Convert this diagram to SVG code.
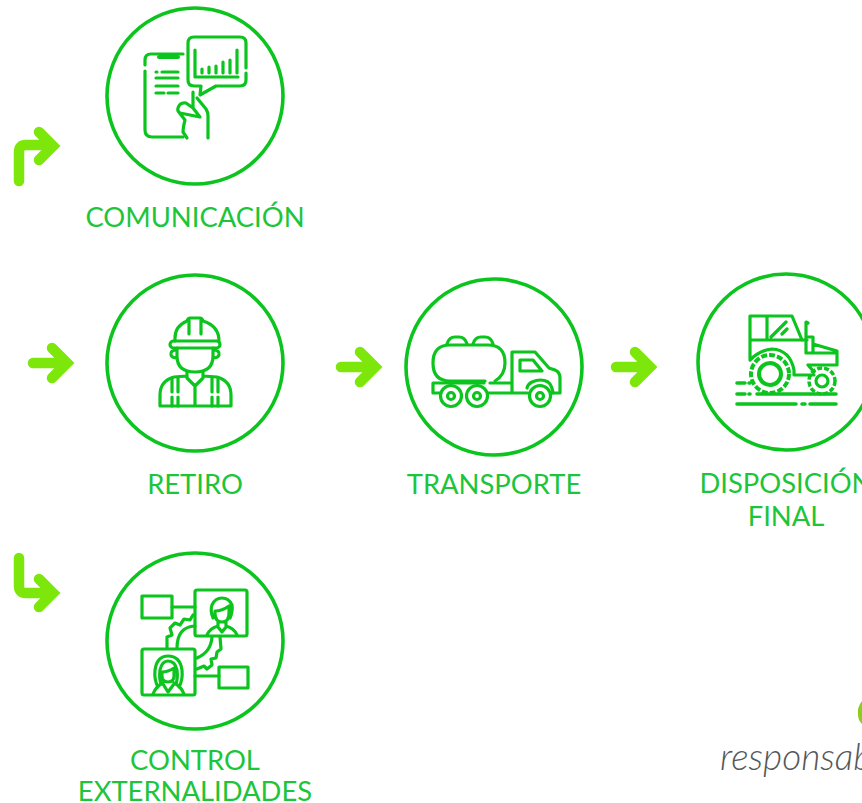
<svg xmlns="http://www.w3.org/2000/svg" width="862" height="803" viewBox="0 0 862 803">
<style>
.ring{fill:none;stroke:#0cc41e;stroke-width:3.6}
.ic{fill:none;stroke:#0cc41e;stroke-width:3.2;stroke-linecap:round;stroke-linejoin:round}
.lbl{font-family:"Lato","Liberation Sans",sans-serif;font-size:27.4px;fill:#1cc53a;text-anchor:middle}
.arr{fill:none;stroke:#7de70c;stroke-width:10.5;stroke-linecap:round;stroke-linejoin:miter}
</style>
<rect width="862" height="803" fill="#fff"/>
<g id="connectors">
<path class="arr" d="M19 181V152Q19 145 26 145H50M39 132L53 146L39 160"/>
<path class="arr" d="M33 363H62M52 348L67 363L52 378"/>
<path class="arr" d="M341 367H370M360 352L375 367L360 382"/>
<path class="arr" d="M616 367H645M635 352L650 367L635 382"/>
<path class="arr" d="M19 558V586Q19 593 26 593H50M39 579L53 593L39 607"/>
</g>
<g id="comunicacion">
<circle class="ring" cx="195" cy="96" r="88"/>
<path class="ic" d="M145 65V60Q145 54 151 54H183M145 71V130Q145 137 152 137H183"/>
<path class="ic" d="M159 57H178" style="stroke-width:4"/>
<path class="ic" d="M156 72H157M162 72H178M156 78H178M156 86H178M156 93H164M168 93H178"/>
<path class="ic" d="M246 68V43Q246 37 240 37H194Q188 37 188 43V80Q188 86 194 86H201L200 95L216 86H240Q246 86 246 80V73"/>
<path class="ic" d="M195 50V77H238M237 50V73M230 60V73M223 62V73M216 66V73M209 67V73M202 69V73"/>
<path class="ic" d="M193 92V108L186 103Q180 102 178 108Q177 111 180 113L200 117M197 98L206 109Q208 112 208 116V138M178 111L185 120Q183 127 183 132L187 138M193 108L200 117"/>
</g>
<g id="retiro">
<circle class="ring" cx="195" cy="363" r="88"/>
<path class="ic" d="M175 341V338Q175 326 187 321Q188 318 190 318H200Q202 318 203 321Q219 326 219 341"/>
<path class="ic" d="M189 320V334M201 320V334"/>
<rect class="ic" x="170" y="341" width="50" height="7" rx="3.5"/>
<path class="ic" d="M177 348V356Q177 372 195 372Q213 372 213 356V348M177 350Q170 350 171 355Q172 358 177 358M213 350Q220 350 219 355Q218 358 213 358"/>
<path class="ic" d="M187 372V378L195 386L203 378V372M195 386V406M187 376L174 377Q160 381 160 395V406H231V395Q231 381 217 377L203 376"/>
<path class="ic" d="M172 378V392M172 397V406M178 378V392M178 397V406M212 378V392M212 397V406M218 378V392M218 397V406"/>
</g>
<g id="transporte">
<circle class="ring" cx="494" cy="367" r="88"/>
<path class="ic" d="M485 381H450Q433 381 433 363Q433 345 450 345H488Q505 345 505 363Q505 375 495 381"/>
<path class="ic" d="M447 344Q449 337 455 337H459Q465 337 467 344M473 344Q475 337 481 337H485Q491 337 493 344"/>
<path class="ic" d="M433 383H484M490 383H512V393H488M433 383V393H441M512 383V352H535L549 368L555 370Q560 372 560 378V393H552M512 393H528M520 360H533L542 371H520Z"/>
<path class="ic" d="M527 388Q528 384 532 382Q541 378 548 382Q552 385 553 393"/>
<circle class="ic" cx="451" cy="396" r="10.5"/><circle class="ic" cx="451" cy="396" r="3.5"/>
<circle class="ic" cx="477" cy="396" r="10.5"/><circle class="ic" cx="477" cy="396" r="3.5"/>
<circle class="ic" cx="540" cy="396" r="10.5"/><circle class="ic" cx="540" cy="396" r="3.5"/>
</g>
<g id="disposicion">
<circle class="ring" cx="786" cy="362" r="88"/>
<path class="ic" d="M750 358V316H792L802 340H750M767 316V340M771 337L786 322M782 334L787 329"/>
<path class="ic" d="M802 340H807M806 337H813V353H806V322Q806 322 808 323M813 344L837 351V365H808M813 353H837M750 360Q760 350 772 349Q790 350 794 370V375H814M808 365L814 372"/>
<circle class="ic" cx="770" cy="374" r="19" style="stroke-width:4;stroke-dasharray:6 2;stroke-linecap:butt"/><circle class="ic" cx="770" cy="374" r="11" style="stroke-width:4"/>
<circle class="ic" cx="822" cy="381" r="13" style="stroke-width:3.5;stroke-dasharray:5 2;stroke-linecap:butt"/><circle class="ic" cx="822" cy="381" r="6"/>
<path class="ic" d="M737 383H745M749 383H750M737 394H745M749 394H750M757 394H836M737 404H796M802 404H805M810 404H836" style="stroke-width:3.6"/>
</g>
<g id="control">
<circle class="ring" cx="195" cy="641" r="88"/>
<rect class="ic" x="142" y="596" width="30" height="22"/>
<rect class="ic" x="219" y="667" width="29" height="21"/>
<rect class="ic" x="195" y="590" width="52" height="46" rx="2"/>
<rect class="ic" x="142" y="649" width="53" height="46" rx="2"/>
<path class="ic" d="M172 607H195M195 676H219"/>
<path class="ic" d="M167 648V637L172 635L170 628L175 623L180 625L184 619L190 620L193 615M195 626Q177 627 177 648M212 637Q211 652 197 658M197 669L204 666L207 669L212 665L211 659L216 658L217 652L221 649L220 637"/>
<path class="ic" d="M213 618Q210 610 212 605Q215 598 222 598Q229 598 232 605Q233 611 230 618M215 611Q222 611 229 606V613Q229 622 222 622Q215 622 215 613V611ZM218 622V626Q210 628 207 635M226 622V626Q234 628 237 635M218 627L222 632L226 627"/>
<path class="ic" d="M158 687Q154 680 155 670Q157 656 168 656Q180 656 182 670Q183 680 179 687M161 684Q159 678 160 670Q162 661 168 661Q175 661 177 670Q178 678 176 684M162 672Q168 672 174 668V676Q174 682 168 682Q162 682 162 676ZM163 683Q156 686 153 694M174 683Q181 686 184 694M163 684L168 692L174 684"/>
</g>
<g id="logo">
<path d="M862 701Q857 707 858 715Q858 720 862 724Z" fill="#8ccd1e"/>
<text x="720" y="770" font-family="Lato,'Liberation Sans',sans-serif" font-size="37" font-style="italic" font-weight="300" fill="#55585a">responsab</text>
</g>
<g id="labels">
<text class="lbl" x="195" y="227">COMUNICACIÓN</text>
<text class="lbl" x="195" y="494">RETIRO</text>
<text class="lbl" x="494" y="494">TRANSPORTE</text>
<text class="lbl" x="786" y="493">DISPOSICIÓN</text>
<text class="lbl" x="786" y="526">FINAL</text>
<text class="lbl" x="195" y="770">CONTROL</text>
<text class="lbl" x="195" y="801">EXTERNALIDADES</text>
</g>
</svg>
